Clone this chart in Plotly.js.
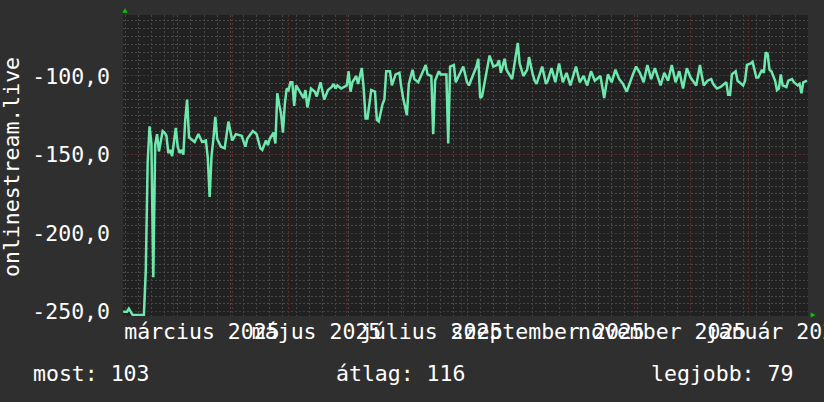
<!DOCTYPE html>
<html>
<head>
<meta charset="utf-8">
<script src="https://cdn.plot.ly/plotly-3.0.1.min.js"></script>
<style>
  html, body { margin: 0; padding: 0; background: #2f2f2f; }
  #chart { width: 824px; height: 402px; }
</style>
</head>
<body>
<div id="chart"></div>
<script>
// ---- data ----
const dates = [
  '2025-02-02','2025-02-04','2025-02-05','2025-02-07','2025-02-13','2025-02-14','2025-02-15','2025-02-16','2025-02-17','2025-02-18',
  '2025-02-19','2025-02-20','2025-02-21','2025-02-22','2025-02-23','2025-02-24','2025-02-25','2025-02-26','2025-02-27','2025-02-28',
  '2025-03-01','2025-03-02','2025-03-03','2025-03-04','2025-03-05','2025-03-06','2025-03-07','2025-03-08','2025-03-09','2025-03-10',
  '2025-03-12','2025-03-14','2025-03-16','2025-03-18','2025-03-19','2025-03-20','2025-03-21','2025-03-22','2025-03-23','2025-03-24',
  '2025-03-26','2025-03-28','2025-03-30','2025-03-31','2025-04-01','2025-04-03','2025-04-06','2025-04-08','2025-04-09','2025-04-12',
  '2025-04-14','2025-04-16','2025-04-17','2025-04-19','2025-04-20','2025-04-21','2025-04-23','2025-04-24','2025-04-25','2025-04-26',
  '2025-04-27','2025-04-28','2025-04-29','2025-04-30','2025-05-01','2025-05-02','2025-05-03','2025-05-04','2025-05-05','2025-05-07',
  '2025-05-09','2025-05-10','2025-05-11','2025-05-13','2025-05-15','2025-05-16','2025-05-18','2025-05-20','2025-05-22','2025-05-24',
  '2025-05-25','2025-05-26','2025-05-27','2025-05-29','2025-06-01','2025-06-02','2025-06-03','2025-06-04','2025-06-06','2025-06-07',
  '2025-06-08','2025-06-09','2025-06-10','2025-06-11','2025-06-12','2025-06-14','2025-06-16','2025-06-17','2025-06-18','2025-06-20',
  '2025-06-21','2025-06-22','2025-06-24','2025-06-25','2025-06-27','2025-06-29','2025-06-30','2025-07-01','2025-07-03','2025-07-04',
  '2025-07-06','2025-07-07','2025-07-09','2025-07-11','2025-07-13','2025-07-14','2025-07-16','2025-07-17','2025-07-18','2025-07-20',
  '2025-07-21','2025-07-24','2025-07-25','2025-07-26','2025-07-28','2025-07-29','2025-07-31','2025-08-02','2025-08-04','2025-08-05',
  '2025-08-07','2025-08-09','2025-08-10','2025-08-11','2025-08-12','2025-08-14','2025-08-15','2025-08-16','2025-08-18','2025-08-20',
  '2025-08-21','2025-08-22','2025-08-24','2025-08-25','2025-08-28','2025-08-30','2025-08-31','2025-09-01','2025-09-03','2025-09-05',
  '2025-09-06','2025-09-08','2025-09-09','2025-09-10','2025-09-12','2025-09-13','2025-09-15','2025-09-16','2025-09-18','2025-09-20',
  '2025-09-22','2025-09-24','2025-09-26','2025-09-28','2025-10-01','2025-10-03','2025-10-05','2025-10-07','2025-10-09','2025-10-11',
  '2025-10-14','2025-10-16','2025-10-18','2025-10-20','2025-10-22','2025-10-24','2025-10-26','2025-10-28','2025-10-31','2025-11-02',
  '2025-11-04','2025-11-06','2025-11-08','2025-11-10','2025-11-12','2025-11-15','2025-11-17','2025-11-19','2025-11-21','2025-11-23',
  '2025-11-25','2025-11-27','2025-11-29','2025-12-01','2025-12-04','2025-12-06','2025-12-07','2025-12-08','2025-12-10','2025-12-12',
  '2025-12-13','2025-12-15','2025-12-17','2025-12-20','2025-12-21','2025-12-22','2025-12-23','2025-12-25','2025-12-26','2025-12-27',
  '2025-12-29','2025-12-30','2025-12-31','2026-01-02','2026-01-03','2026-01-05','2026-01-06','2026-01-08','2026-01-09','2026-01-10',
  '2026-01-11','2026-01-12','2026-01-13','2026-01-15','2026-01-16','2026-01-17','2026-01-18','2026-01-19','2026-01-21','2026-01-22',
  '2026-01-24','2026-01-25','2026-01-27','2026-01-28','2026-01-29','2026-01-30','2026-02-01'
];
const rank = [
  -250,-250,-248,-252,-252,-224,-155,-132,-143,-228,
  -144,-137,-148,-142,-135,-136,-138,-149,-147,-151,
  -143,-133,-145,-149,-147,-150,-128,-115,-139,-140,
  -142,-137,-142,-141,-152,-177,-151,-140,-126,-140,
  -145,-146,-129,-135,-141,-137,-138,-145,-140,-135,
  -137,-146,-147,-141,-144,-140,-136,-143,-111,-118,
  -124,-136,-118,-108,-109,-104,-104,-119,-106,-110,
  -114,-109,-120,-108,-110,-113,-104,-115,-109,-107,
  -105,-108,-106,-108,-106,-97,-110,-104,-100,-105,
  -99,-95,-108,-127,-127,-109,-110,-128,-129,-118,
  -115,-97,-97,-106,-99,-98,-107,-114,-125,-105,
  -96,-102,-104,-99,-93,-99,-100,-137,-103,-97,
  -99,-99,-143,-94,-93,-104,-99,-94,-104,-106,
  -100,-94,-89,-114,-113,-99,-92,-87,-94,-93,
  -90,-98,-89,-96,-102,-86,-79,-92,-100,-96,
  -88,-99,-103,-105,-98,-94,-105,-103,-95,-104,
  -92,-104,-98,-106,-94,-104,-100,-106,-97,-103,
  -100,-114,-99,-104,-96,-102,-105,-110,-100,-94,
  -98,-104,-93,-102,-95,-106,-98,-103,-93,-104,
  -97,-108,-95,-101,-106,-93,-100,-106,-103,-102,
  -105,-108,-107,-104,-112,-112,-99,-97,-103,-104,
  -106,-103,-93,-92,-91,-101,-101,-96,-98,-85,
  -86,-96,-97,-103,-109,-108,-99,-106,-107,-103,
  -102,-104,-106,-105,-111,-104,-103
];
const monthTicks = ['2025-03-01','2025-04-01','2025-05-01','2025-06-01','2025-07-01','2025-08-01','2025-09-01',
                    '2025-10-01','2025-11-01','2025-12-01','2026-01-01','2026-02-01'];
const monthLabels = ['március 2025','','május 2025','','július 2025','','szeptember 2025',
                     '','november 2025','','január 2026',''];
const yTickVals = [-250, -200, -150, -100];
const yTickText = ['-250,0', '-200,0', '-150,0', '-100,0'];
const seriesName = 'onlinestream.live';
const statLabels = ['most: 103', 'átlag: 116', 'legjobb: 79'];

// ---- layout helpers (pixel -> paper) ----
const L = 123, T = 15, W = 685, H = 301;
const px = x => (x - L) / W;
const py = y => (T + H - y) / H;
const FONT = '"DejaVu Sans Mono", monospace';
const FS = 21.5;
const MINOR = '#484848', MAJOR = '#5f2c2c';

const trace = {
  x: dates, y: rank, type: 'scatter', mode: 'lines',
  line: { color: '#6fe8ae', width: 2.5 }, hoverinfo: 'skip', name: seriesName
};

const statX = [31, 333.5, 648.5];
const annotations = statLabels.map((t, i) => ({
  text: t, xref: 'paper', yref: 'paper', x: px(statX[i]), y: py(373),
  xanchor: 'left', yanchor: 'middle', showarrow: false,
  font: { family: FONT, size: FS, color: '#ffffff' }
}));
annotations.push({
  text: seriesName, xref: 'paper', yref: 'paper', x: px(11), y: py(167),
  xanchor: 'center', yanchor: 'middle', textangle: -90, showarrow: false,
  font: { family: FONT, size: FS, color: '#ffffff' }
});

const tri = pts => 'M ' + pts.map(p => px(p[0]) + ',' + py(p[1])).join(' L ') + ' Z';
const shapes = [
  { type: 'path', xref: 'paper', yref: 'paper', path: tri([[122.3,12.7],[127.7,12.7],[125,8.3]]),
    fillcolor: '#00cc00', line: { width: 0 } },
  { type: 'path', xref: 'paper', yref: 'paper', path: tri([[810.7,312.5],[810.7,317.5],[815.5,315]]),
    fillcolor: '#00cc00', line: { width: 0 } }
];

const layout = {
  width: 824, height: 402,
  margin: { l: L, r: 824 - L - W, t: T, b: 402 - T - H, pad: 0 },
  paper_bgcolor: '#2f2f2f', plot_bgcolor: '#212121',
  showlegend: false,
  font: { family: FONT, size: FS, color: '#ffffff' },
  xaxis: {
    type: 'date',
    range: ['2025-02-01 21:00', '2026-02-01 12:00'],
    tickmode: 'array', tickvals: monthTicks, ticktext: monthLabels,
    tickangle: 0, ticklabelshift: 28, ticklabeloverflow: 'allow',
    ticks: '', showgrid: true, gridcolor: MAJOR, griddash: '2px,2px', gridwidth: 1,
    minor: { tick0: '2025-02-03', dtick: 7 * 86400000, showgrid: true,
             gridcolor: MINOR, griddash: '2px,2px', gridwidth: 1 },
    zeroline: false, showline: false, fixedrange: true,
    tickfont: { family: FONT, size: FS, color: '#ffffff' }
  },
  yaxis: {
    range: [-252.7, -61.2],
    tickmode: 'array', tickvals: yTickVals, ticktext: yTickText,
    ticks: '', ticklabelstandoff: 12,
    showgrid: true, gridcolor: MAJOR, griddash: '2px,2px', gridwidth: 1,
    minor: { dtick: 5, showgrid: true, gridcolor: MINOR, griddash: '2px,2px', gridwidth: 1 },
    zeroline: false, showline: false, fixedrange: true,
    tickfont: { family: FONT, size: FS, color: '#ffffff' }
  },
  annotations: annotations,
  shapes: shapes
};

Plotly.newPlot('chart', [trace], layout, { displayModeBar: false, staticPlot: true });
</script>
</body>
</html>
